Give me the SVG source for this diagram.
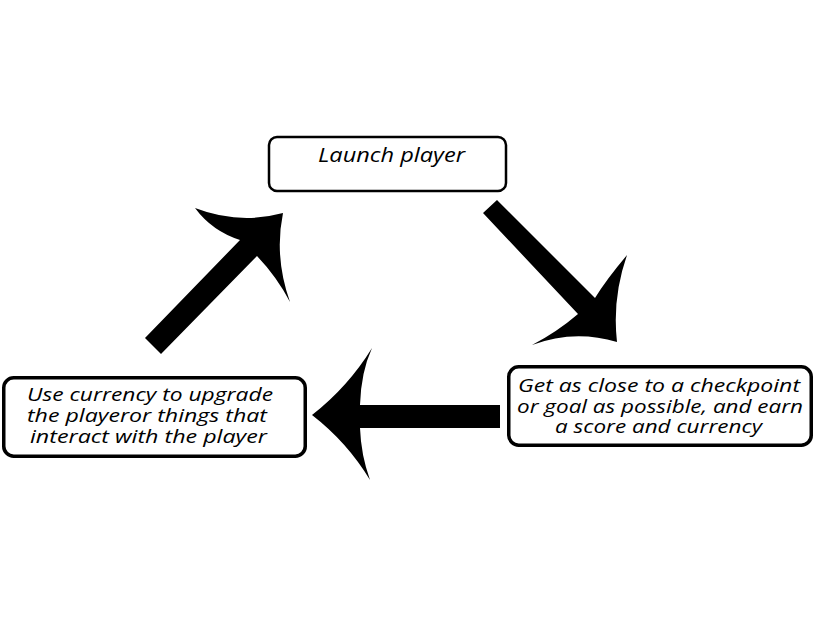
<svg xmlns="http://www.w3.org/2000/svg" width="826" height="641" viewBox="0 0 826 641">
<style>
.box{fill:#fff;stroke:#000;}
.t{font-family:"Open Sans","DejaVu Sans",sans-serif;font-style:italic;font-weight:500;fill:#000;}
.arrow{fill:#000;stroke:none;}
</style>
<rect x="0" y="0" width="826" height="641" fill="#fff"/>
<g id="connectors">
  <path class="arrow" d="M145,338 L240,240 Q212,231 195,208 Q239,225 283,213 Q274,257 290,302 Q277,277 257,256 L161,354 Z"/>
  <path class="arrow" d="M497,200 L595,298 Q606,280 627,255 Q612,298 617,342 Q574,329 532,345 Q557,332 578,314 L483,213 Z"/>
  <path class="arrow" d="M500,405 L360,405 Q361,372 372,348 Q348,387 312,415 Q347,442 370,480 Q361,455 360,428 L500,428 Z"/>
</g>
<g id="node-launch">
  <rect class="box" x="269" y="137" width="237" height="54" rx="8" stroke-width="2.5"/>
  <text class="t" x="318" y="162" font-size="20.5" textLength="147" lengthAdjust="spacingAndGlyphs">Launch player</text>
</g>
<g id="node-upgrade">
  <rect class="box" x="3.75" y="377.75" width="301.5" height="78.5" rx="10" stroke-width="3.5"/>
  <text class="t" font-size="18">
    <tspan x="27" y="401" textLength="246" lengthAdjust="spacingAndGlyphs">Use currency to upgrade</tspan>
    <tspan x="27" y="422" textLength="240" lengthAdjust="spacingAndGlyphs">the playeror things that</tspan>
    <tspan x="30" y="443" textLength="237" lengthAdjust="spacingAndGlyphs">interact with the player</tspan>
  </text>
</g>
<g id="node-checkpoint">
  <rect class="box" x="508.75" y="366.75" width="302.5" height="78.5" rx="10" stroke-width="3.5"/>
  <text class="t" font-size="18">
    <tspan x="518" y="392" textLength="282" lengthAdjust="spacingAndGlyphs">Get as close to a checkpoint</tspan>
    <tspan x="517" y="413" textLength="286" lengthAdjust="spacingAndGlyphs">or goal as possible, and earn</tspan>
    <tspan x="555" y="433" textLength="207" lengthAdjust="spacingAndGlyphs">a score and currency</tspan>
  </text>
</g>
</svg>
